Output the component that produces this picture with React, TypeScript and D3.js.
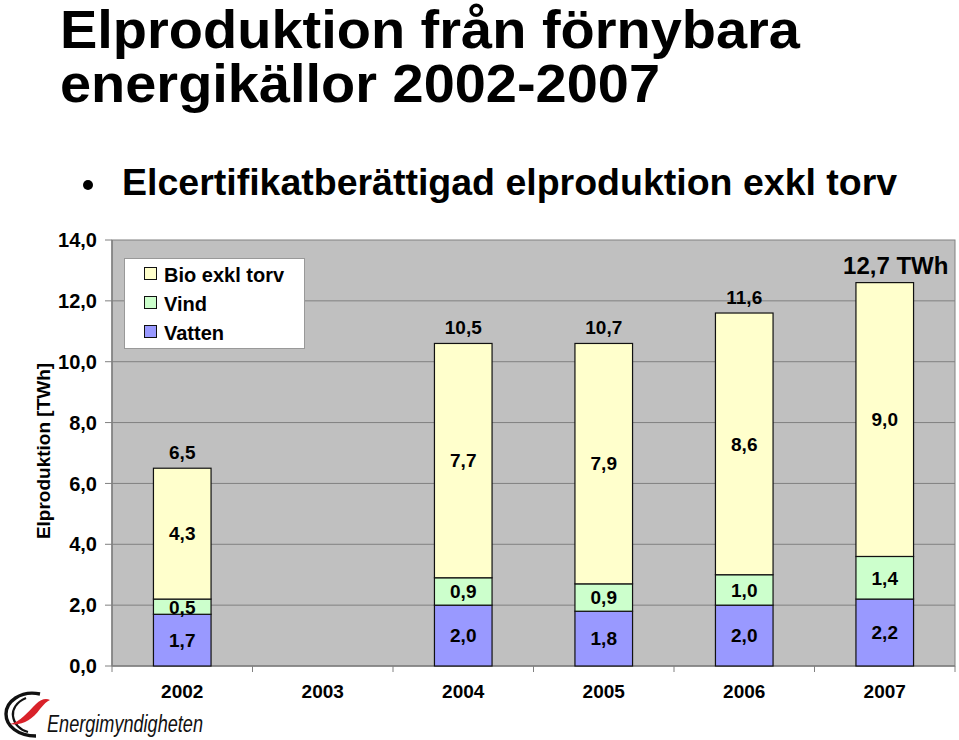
import React from "react";
import * as d3 from "d3";

const years = ["2002", "2003", "2004", "2005", "2006", "2007"];
const vatten = [1.7, 0, 2.0, 1.8, 2.0, 2.2];
const vind = [0.5, 0, 0.9, 0.9, 1.0, 1.4];
const bio = [4.3, 0, 7.7, 7.9, 8.6, 9.0];
const totalLabels = ["6,5", "", "10,5", "10,7", "11,6", "12,7 TWh"];
const yTicks = [0, 2, 4, 6, 8, 10, 12, 14];
const seriesNames = ["Vatten", "Vind", "Bio exkl torv"];
const seriesColors = ["#9999ff", "#ccffcc", "#ffffcc"];

const W = 959, H = 740;
const PL = 112, PR = 955, PT = 240, PB = 666;
const FONT = "'Liberation Sans', Arial, Helvetica, sans-serif";

export default function App() {
  const x = d3.scaleBand<string>().domain(years).range([PL, PR]).padding(0);
  const y = d3.scaleLinear().domain([0, 14]).range([PB, PT]);
  const barW = x.bandwidth() * 0.41;
  const fmt = (v: number) => d3.format(".1f")(v).replace(".", ",");

  const table = years.map((yr, i) => ({ year: yr, Vatten: vatten[i], Vind: vind[i], "Bio exkl torv": bio[i] }));
  const stack = d3.stack<any>().keys(seriesNames)(table);

  const legendOrder = [2, 1, 0];

  return (
    <svg width={W} height={H} style={{ position: "absolute", left: 0, top: 0, background: "#fff" }} fontFamily={FONT}>
      {/* Titles */}
      <text x={60} y={48} fontSize={53} fontWeight="bold" fill="#000" textLength={740} lengthAdjust="spacingAndGlyphs">Elproduktion från förnybara</text>
      <text x={60} y={102} fontSize={53} fontWeight="bold" fill="#000" textLength={600} lengthAdjust="spacingAndGlyphs">energikällor 2002-2007</text>
      <circle cx={88} cy={185} r={5} fill="#000" />
      <text x={122} y={195} fontSize={37.5} fontWeight="bold" fill="#000">Elcertifikatberättigad elproduktion exkl torv</text>

      {/* Plot area */}
      <rect x={PL} y={PT} width={PR - PL} height={PB - PT} fill="#c0c0c0" stroke="#808080" strokeWidth={1} />
      {yTicks.map((t) => (
        <g key={t}>
          {t > 0 && t < 14 && <line x1={PL} x2={PR} y1={y(t)} y2={y(t)} stroke="#808080" strokeWidth={1} />}
          <line x1={PL - 7} x2={PL} y1={y(t)} y2={y(t)} stroke="#808080" strokeWidth={1} />
          <text x={97} y={y(t)} dy="0.36em" textAnchor="end" fontSize={20} fontWeight="bold">{fmt(t)}</text>
        </g>
      ))}
      <line x1={PL} x2={PL} y1={PT} y2={PB} stroke="#808080" strokeWidth={1.5} />
      <line x1={PL} x2={PR} y1={PB} y2={PB} stroke="#808080" strokeWidth={1.5} />
      {years.map((yr) => (
        <line key={"xt" + yr} x1={x(yr)! + x.bandwidth()} x2={x(yr)! + x.bandwidth()} y1={PB} y2={PB + 6} stroke="#808080" />
      ))}
      <line x1={PL} x2={PL} y1={PB} y2={PB + 6} stroke="#808080" />

      {/* Bars */}
      {stack.map((s, si) => (
        <g key={s.key}>
          {s.map((d, i) => {
            const v = d[1] - d[0];
            if (v <= 0) return null;
            const cx = x(years[i])! + x.bandwidth() / 2;
            return (
              <g key={i}>
                <rect x={cx - barW / 2} y={y(d[1])} width={barW} height={y(d[0]) - y(d[1])} fill={seriesColors[si]} stroke="#111" strokeWidth={1.2} />
                <text x={cx} y={y((d[0] + d[1]) / 2)} dy="0.36em" textAnchor="middle" fontSize={19} fontWeight="bold">{fmt(v)}</text>
              </g>
            );
          })}
        </g>
      ))}

      {/* Totals */}
      {years.map((yr, i) => {
        const tot = vatten[i] + vind[i] + bio[i];
        if (!totalLabels[i]) return null;
        const cx = x(yr)! + x.bandwidth() / 2;
        const big = i === years.length - 1;
        return (
          <text key={"tot" + yr} x={big ? cx + 11 : cx} y={y(tot) - 9} textAnchor="middle" fontSize={big ? 24 : 19} fontWeight="bold">{totalLabels[i]}</text>
        );
      })}

      {/* X labels */}
      {years.map((yr) => (
        <text key={"xl" + yr} x={x(yr)! + x.bandwidth() / 2} y={698} textAnchor="middle" fontSize={19} fontWeight="bold">{yr}</text>
      ))}

      {/* Y axis title */}
      <text transform="translate(50,451) rotate(-90)" textAnchor="middle" fontSize={19} fontWeight="bold">Elproduktion [TWh]</text>

      {/* Legend */}
      <rect x={124.5} y={258.5} width={180} height={90} fill="#fff" stroke="#999" strokeWidth={1} />
      {legendOrder.map((si, k) => (
        <g key={"lg" + si}>
          <rect x={144.5} y={267.5 + k * 29} width={12} height={12} fill={seriesColors[si]} stroke="#111" strokeWidth={1} />
          <text x={164} y={282 + k * 29} fontSize={20} fontWeight="bold">{seriesNames[si]}</text>
        </g>
      ))}

      {/* Logo */}
      <g>
        <path d="M 40 694 C 20 690, 6 702, 6 714 C 6 726, 18 736, 36 736" fill="none" stroke="#111" strokeWidth={3.4} />
        <path d="M 26 698 C 16 702, 12 710, 13 716 C 14 724, 20 730, 28 732" fill="none" stroke="#111" strokeWidth={2.2} />
        <path d="M 10 724 C 20 722, 28 712, 36 704 C 41 699, 46 698, 50 700 C 47 701, 44 704, 40 709 C 32 720, 22 726, 10 724 Z" fill="#d9222a" />
        <text x={47} y={732} fontSize={23} fontStyle="italic" fill="#111" textLength={156} lengthAdjust="spacingAndGlyphs">Energimyndigheten</text>
      </g>
    </svg>
  );
}
